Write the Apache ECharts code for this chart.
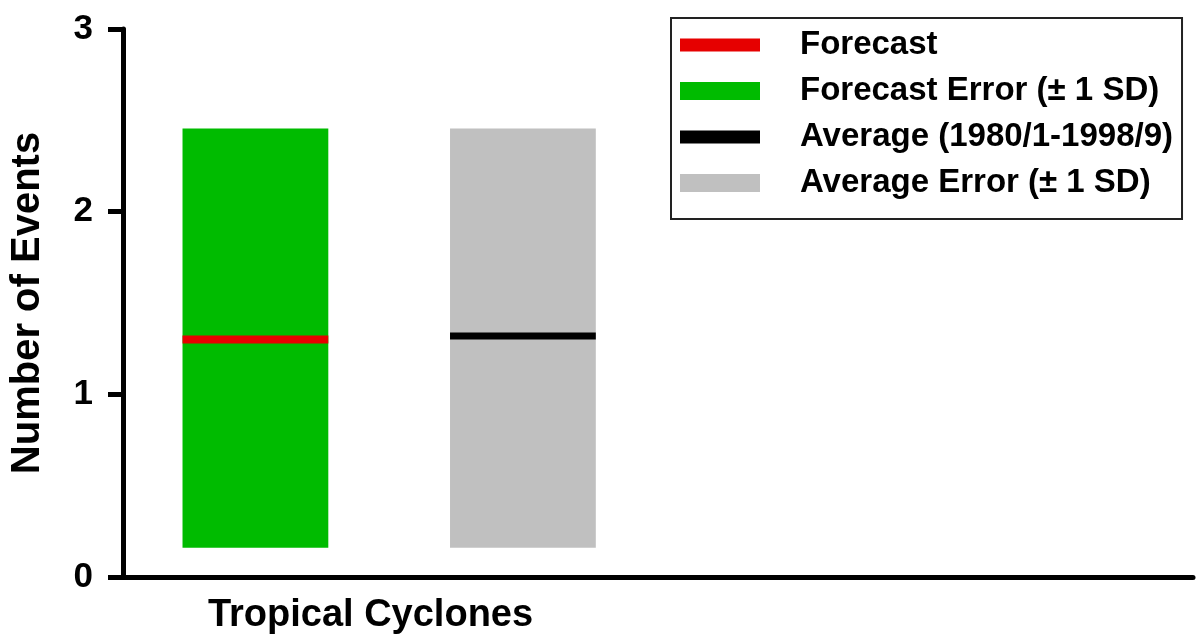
<!DOCTYPE html>
<html>
<head>
<meta charset="utf-8">
<style>
  html, body { margin: 0; padding: 0; background: #ffffff; }
  #chart { width: 1196px; height: 635px; }
</style>
<script src="https://cdn.jsdelivr.net/npm/echarts@6/dist/echarts.min.js"></script>
</head>
<body>
<div id="chart"></div>
<script>
// ---- data ----
const categories = ['Tropical Cyclones'];
const forecastValues = [1.30];
const forecastLow = [0.16];
const forecastHigh = [2.455];
const averageValues = [1.32];
const averageLow = [0.16];
const averageHigh = [2.455];
const yTicks = [0, 1, 2, 3];
const seriesNames = ['Forecast', 'Forecast Error (± 1 SD)', 'Average (1980/1-1998/9)', 'Average Error (± 1 SD)'];

// ---- layout constants (x slots on a 0..4 value axis) ----
const FORECAST_X = 0.495;
const AVERAGE_X = 1.495;
const BAR_W = 0.545;
const FONT = "'Liberation Sans', Arial, sans-serif";

function boxItem(params, api) {
  const x = api.value(0), lo = api.value(1), hi = api.value(2);
  const p1 = api.coord([x - BAR_W / 2, hi]);
  const p2 = api.coord([x + BAR_W / 2, lo]);
  return {
    type: 'rect',
    shape: { x: p1[0], y: p1[1], width: p2[0] - p1[0], height: p2[1] - p1[1] },
    style: { fill: api.visual('color') }
  };
}
function lineItem(width) {
  return function (params, api) {
    const x = api.value(0), v = api.value(1);
    const p1 = api.coord([x - BAR_W / 2, v]);
    const p2 = api.coord([x + BAR_W / 2, v]);
    return {
      type: 'rect',
      shape: { x: p1[0], y: p1[1] - width / 2, width: p2[0] - p1[0], height: width },
      style: { fill: api.visual('color') }
    };
  };
}

const thinIcon = 'path://M0,0M80,18M0,2.5h80v13h-80z';

const chart = echarts.init(document.getElementById('chart'), null, { renderer: 'canvas' });
chart.setOption({
  backgroundColor: '#ffffff',
  animation: false,
  textStyle: { fontFamily: FONT },
  grid: { left: 123, right: 0, top: 29, bottom: 58, containLabel: false },
  legend: {
    orient: 'vertical',
    left: 671,
    top: 18,
    padding: [9, 9, 18, 9],
    itemGap: 10,
    itemWidth: 80,
    itemHeight: 18,
    borderColor: '#222222',
    borderWidth: 2,
    selectedMode: false,
    textStyle: { fontFamily: FONT, fontWeight: 'bold', fontSize: 33, color: '#000', lineHeight: 36, padding: [0, 0, 0, 35] },
    data: [
      { name: seriesNames[0], icon: thinIcon, itemStyle: { color: '#e60000' } },
      { name: seriesNames[1], icon: 'rect', itemStyle: { color: '#00bb00' } },
      { name: seriesNames[2], icon: thinIcon, itemStyle: { color: '#000000' } },
      { name: seriesNames[3], icon: 'rect', itemStyle: { color: '#c0c0c0' } }
    ]
  },
  xAxis: {
    type: 'value',
    min: 0,
    max: 4,
    interval: 1,
    splitLine: { show: false },
    axisTick: { show: false },
    axisLine: { show: true, onZero: false, lineStyle: { color: '#000', width: 5 } },
    axisLabel: {
      margin: 20,
      fontFamily: FONT,
      fontWeight: 'bold',
      fontSize: 38,
      color: '#000',
      padding: [0, 40, 0, 0],
      formatter: function (v) { return v === 1 ? categories[0] : ''; }
    }
  },
  yAxis: {
    type: 'value',
    min: yTicks[0],
    max: yTicks[yTicks.length - 1],
    interval: 1,
    name: 'Number of Events',
    nameLocation: 'middle',
    nameGap: 75,
    nameTextStyle: { fontFamily: FONT, fontWeight: 'bold', fontSize: 40, color: '#000' },
    splitLine: { show: false },
    axisLine: { show: true, lineStyle: { color: '#000', width: 5 } },
    axisTick: { show: true, length: 15, lineStyle: { color: '#000', width: 5 } },
    axisLabel: { margin: 30, fontFamily: FONT, fontWeight: 'bold', fontSize: 35, color: '#000' }
  },
  series: [
    {
      name: seriesNames[1], type: 'custom', itemStyle: { color: '#00bb00' },
      encode: { x: 0, y: [1, 2] }, renderItem: boxItem, z: 1,
      data: forecastLow.map((lo, i) => [FORECAST_X + i * 2, lo, forecastHigh[i]])
    },
    {
      name: seriesNames[3], type: 'custom', itemStyle: { color: '#c0c0c0' },
      encode: { x: 0, y: [1, 2] }, renderItem: boxItem, z: 1,
      data: averageLow.map((lo, i) => [AVERAGE_X + i * 2, lo, averageHigh[i]])
    },
    {
      name: seriesNames[0], type: 'custom', itemStyle: { color: '#e60000' },
      encode: { x: 0, y: 1 }, renderItem: lineItem(8), z: 2,
      data: forecastValues.map((v, i) => [FORECAST_X + i * 2, v])
    },
    {
      name: seriesNames[2], type: 'custom', itemStyle: { color: '#000000' },
      encode: { x: 0, y: 1 }, renderItem: lineItem(7), z: 2,
      data: averageValues.map((v, i) => [AVERAGE_X + i * 2, v])
    }
  ]
});
</script>
</body>
</html>
